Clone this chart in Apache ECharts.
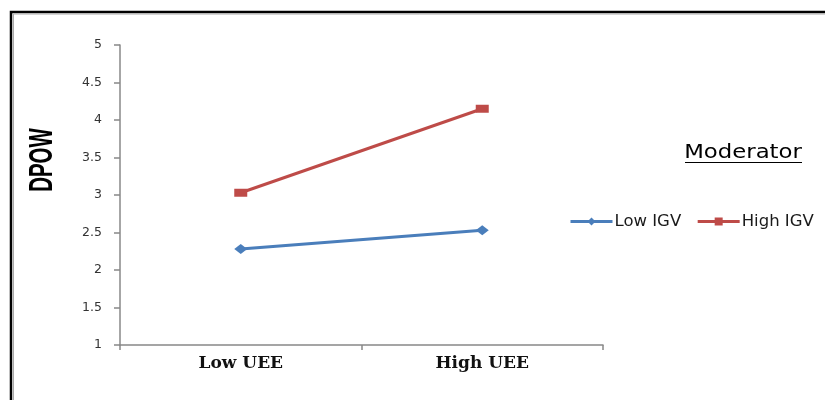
<!DOCTYPE html>
<html>
<head>
<meta charset="utf-8">
<script src="https://cdn.jsdelivr.net/npm/echarts@6/dist/echarts.min.js"></script>
<style>html,body{margin:0;padding:0;background:#fff}#c{width:825px;height:400px}</style>
</head>
<body>
<div id="c"></div>
<script>
const categories = ['Low UEE', 'High UEE'];
const lowIGV = [2.28, 2.53];
const highIGV = [3.03, 4.15];
const seriesNames = ['Low IGV', 'High IGV'];
const yTicks = { min: 1, max: 5, interval: 0.5 };

const chart = echarts.init(document.getElementById('c'));
chart.setOption({
  backgroundColor: '#fff',
  animation: false,
  grid: { left: 120, top: 45, width: 483, height: 300, containLabel: false },
  xAxis: {
    type: 'category',
    data: categories,
    boundaryGap: true,
    axisLine: { lineStyle: { color: '#888', width: 1.5 } },
    axisTick: { show: true, length: 5, lineStyle: { color: '#888', width: 1.5 } },
    axisLabel: { margin: 10, color: '#111', fontFamily: 'DejaVu Serif', fontWeight: 'bold', fontSize: 17 }
  },
  yAxis: {
    type: 'value',
    min: yTicks.min, max: yTicks.max, interval: yTicks.interval,
    axisLine: { show: true, lineStyle: { color: '#888', width: 1.5 } },
    axisTick: { show: true, length: 6, lineStyle: { color: '#888', width: 1.5 } },
    splitLine: { show: false },
    axisLabel: { margin: 18, color: '#333', fontFamily: 'DejaVu Sans', fontSize: 12.5 }
  },
  legend: {
    data: seriesNames,
    left: 564, top: 208,
    itemWidth: 42, itemHeight: 10, itemGap: 15,
    lineStyle: { width: 3 },
    textStyle: { fontFamily: 'DejaVu Sans', fontSize: 16.5, color: '#1a1a1a', padding: [0, 0, 0, -3] }
  },
  series: [
    {
      name: seriesNames[0], type: 'line', data: lowIGV,
      symbol: 'diamond', symbolSize: [13, 10],
      lineStyle: { color: '#4A7EBB', width: 3 },
      itemStyle: { color: '#4A7EBB' }
    },
    {
      name: seriesNames[1], type: 'line', data: highIGV,
      symbol: 'rect', symbolSize: [13, 8],
      lineStyle: { color: '#BE4B48', width: 3 },
      itemStyle: { color: '#BE4B48' }
    }
  ],
  graphic: [
    { type: 'polyline', shape: { points: [[11, 410], [11, 12], [840, 12]] }, style: { stroke: '#000', lineWidth: 2.5, fill: null } },
    { type: 'polyline', shape: { points: [[13.5, 410], [13.5, 14], [840, 14]] }, style: { stroke: '#aaa', lineWidth: 1, fill: null } },
    { type: 'text', x: 43, y: 160, rotation: Math.PI / 2, scaleX: 0.62,
      style: { text: 'DPOW', font: 'bold 33px "Liberation Sans"', fill: '#000', align: 'center', verticalAlign: 'middle' } },
    { type: 'text', x: 743, y: 153, scaleX: 1.2,
      style: { text: 'Moderator', font: '19px "DejaVu Sans"', fill: '#000', align: 'center', verticalAlign: 'middle' } },
    { type: 'line', shape: { x1: 685, y1: 162.5, x2: 802, y2: 162.5 }, style: { stroke: '#000', lineWidth: 1 } }
  ]
});
</script>
</body>
</html>
